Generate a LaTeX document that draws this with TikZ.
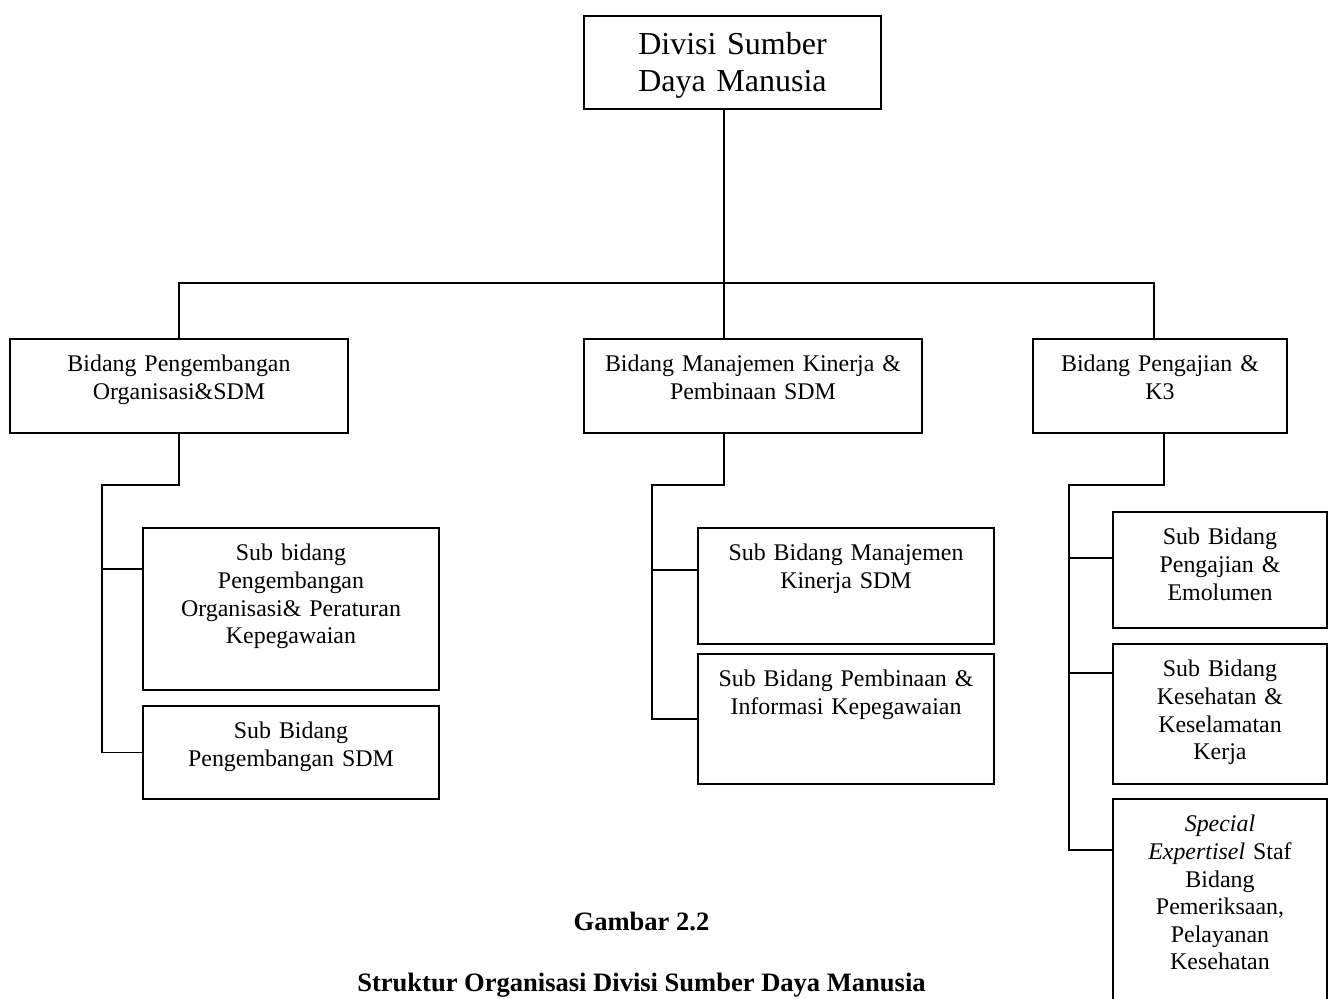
\documentclass[tikz,border=0pt]{standalone}
\usepackage{fontspec}
\setmainfont{Liberation Serif}
\newcommand{\unitfont}{\fontsize{13.6}{15.7}\selectfont}
\newcommand{\headfont}{\fontsize{18.2}{20.8}\selectfont}
\newcommand{\capfont}{\fontsize{15.1}{17.4}\selectfont\bfseries}
\tikzset{
  unit/.style={draw,rectangle,line width=1.1pt,inner sep=0pt,anchor=north,align=center,font=\unitfont,text height=.66cm},
  link/.style={line width=1.1pt}
}
\begin{document}
\begin{tikzpicture}
\path[use as bounding box,clip] (0,0) rectangle (26.66,-19.96);
\node[unit,font=\headfont,text width=5.94cm,text height=.78cm,text depth=1.08cm] (sdm) at (14.65,-.30) {Divisi Sumber\\Daya Manusia};
\node[unit,text width=6.76cm,text depth=1.22cm] (org) at (3.58,-6.76) {Bidang Pengembangan\\Organisasi\&SDM};
\node[unit,text width=6.76cm,text depth=1.22cm] (kin) at (15.06,-6.76) {Bidang Manajemen Kinerja \&\\Pembinaan SDM};
\node[unit,text width=5.08cm,text depth=1.22cm] (gaji) at (23.20,-6.76) {Bidang Pengajian \&\\K3};
\node[unit,text width=5.92cm,text depth=2.58cm] (orgA) at (5.82,-10.54) {Sub bidang\\Pengembangan\\Organisasi\& Peraturan\\Kepegawaian};
\node[unit,text width=5.92cm,text depth=1.20cm] (orgB) at (5.82,-14.10) {Sub Bidang\\Pengembangan SDM};
\node[unit,text width=5.92cm,text depth=1.66cm] (kinA) at (16.92,-10.54) {Sub Bidang Manajemen\\Kinerja SDM};
\node[unit,text width=5.92cm,text depth=1.94cm] (kinB) at (16.92,-13.06) {Sub Bidang Pembinaan \&\\Informasi Kepegawaian};
\node[unit,text width=4.28cm,text depth=1.66cm] (gajiA) at (24.40,-10.22) {Sub Bidang\\Pengajian \&\\Emolumen};
\node[unit,text width=4.28cm,text depth=2.14cm] (gajiB) at (24.40,-12.86) {Sub Bidang\\Kesehatan \&\\Keselamatan\\Kerja};
\node[unit,text width=4.28cm,text depth=3.94cm] (gajiC) at (24.40,-15.96) {\textit{Special}\\\textit{Expertisel} Staf\\Bidang\\Pemeriksaan,\\Pelayanan\\Kesehatan};
\coordinate (trunk) at (14.48,-5.66);
\coordinate (orgsp) at (2.04,-9.70);
\coordinate (kinsp) at (13.04,-9.70);
\coordinate (gajisp) at (21.38,-9.70);
\draw[link] (sdm.south -| trunk) -- (trunk) -- (trunk |- kin.north);
\draw[link] (org.north) |- (trunk) -| ([xshift=-.12cm]gaji.north);
\draw[link] (org.south) |- (orgsp) |- ([yshift=-.84cm]orgA.north west);
\draw[link] (orgsp) |- (orgB.west);
\draw[link] (trunk |- kin.south) |- (kinsp) |- ([yshift=-.86cm]kinA.north west);
\draw[link] (kinsp) |- (kinB.west);
\draw[link] ([xshift=.08cm]gaji.south) |- (gajisp) |- ([yshift=-.94cm]gajiA.north west);
\draw[link] (gajisp) |- ([yshift=-.60cm]gajiB.north west);
\draw[link] (gajisp) |- ([yshift=-1.04cm]gajiC.north west);
\node[anchor=base,font=\capfont] (fig) at (12.83,-18.60) {Gambar 2.2};
\node[anchor=base,font=\capfont] (title) at (12.83,-19.82) {Struktur Organisasi Divisi Sumber Daya Manusia};
\end{tikzpicture}
\end{document}
